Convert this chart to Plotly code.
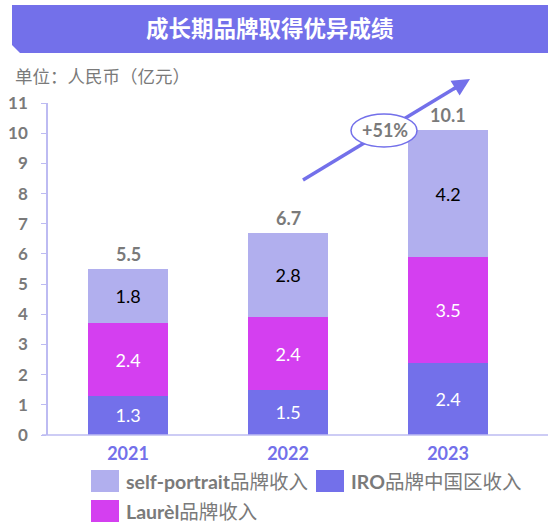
import plotly.graph_objects as go

# data (亿元)
years = ["2021", "2022", "2023"]
iro = [1.3, 1.5, 2.4]
laurel = [2.4, 2.4, 3.5]
self_portrait = [1.8, 2.8, 4.2]
totals = [5.5, 6.7, 10.1]
growth_label = "+51%"

c_iro = "#7370EA"
c_laurel = "#D43FF0"
c_sp = "#B1AFEE"
c_axis = "#BDBBF2"
c_gray = "#7A7A7A"
font_fam = "Lato, 'Noto Sans CJK SC', sans-serif"

W, H = 548, 524
L, R, T, B = 48, 20, 103, 89


# pixel -> paper helpers for decorations
def px(x):
    return (x - L) / (W - L - R)


def py(y):
    return (H - B - y) / (H - T - B)


fig = go.Figure()
fig.add_trace(go.Bar(x=years, y=iro, marker_color=c_iro,
                     textfont=dict(color="white", size=18)))
fig.add_trace(go.Bar(x=years, y=laurel, marker_color=c_laurel,
                     textfont=dict(color="white", size=18)))
fig.add_trace(go.Bar(x=years, y=self_portrait, marker_color=c_sp,
                     textfont=dict(color="black", size=18)))
fig.update_traces(width=0.5, textposition="inside", insidetextanchor="middle",
                  texttemplate="%{y:.1f}", marker_line_width=0, showlegend=False,
                  constraintext="none")

# totals above bars
for i, t in enumerate(totals):
    fig.add_annotation(x=i, y=t, text=f"<b>{t}</b>", showarrow=False, yanchor="bottom",
                       xanchor="center", yshift=2, font=dict(size=18, color=c_gray))

# title banner with clipped corner
x0, x1, y0, y1, cut = 12, 548, 5, 53, 8
fig.add_shape(type="path", xref="paper", yref="paper", fillcolor=c_iro, line_width=0,
              path=f"M {px(x0)},{py(y0)} L {px(x1)},{py(y0)} L {px(x1)},{py(y1)} "
                   f"L {px(x0 + cut)},{py(y1)} L {px(x0)},{py(y1 - cut)} Z")
fig.add_annotation(xref="paper", yref="paper", x=px(270), y=py(29), showarrow=False,
                   xanchor="center", yanchor="middle",
                   text="<b>成长期品牌取得优异成绩</b>", font=dict(size=22.5, color="white"))

fig.add_annotation(xref="paper", yref="paper", x=px(13), y=py(77), xanchor="left",
                   yanchor="middle", showarrow=False, text="单位：人民币（亿元）",
                   font=dict(size=17.5, color=c_gray))

# growth arrow and bubble
fig.add_shape(type="line", xref="paper", yref="paper", x0=px(303), y0=py(180),
              x1=px(460), y1=py(85), line=dict(color=c_iro, width=3.5))
fig.add_annotation(xref="paper", yref="paper", x=px(470), y=py(79), ax=-18, ay=11,
                   showarrow=True, arrowhead=2, arrowsize=1, arrowwidth=3.5,
                   arrowcolor=c_iro, text="")
fig.add_shape(type="circle", xref="paper", yref="paper", x0=px(351), x1=px(417),
              y0=py(147), y1=py(114), fillcolor="white", line=dict(color=c_iro, width=1.5))
fig.add_annotation(xref="paper", yref="paper", x=px(384.5), y=py(130), showarrow=False,
                   xanchor="center", yanchor="middle",
                   text=f"<b>{growth_label}</b>", font=dict(size=18, color=c_gray))

# extended x axis line
fig.add_shape(type="line", xref="paper", yref="paper", x0=px(42), x1=px(548), y0=0, y1=0,
              line=dict(color=c_axis, width=1.5))

# custom legend
legend_items = [
    (c_sp, "<b>self-portrait</b>品牌收入", 91, 481),
    (c_iro, "<b>IRO</b>品牌中国区收入", 316, 481),
    (c_laurel, "<b>Laurèl</b>品牌收入", 91, 511),
]
for col, label, lx, ly in legend_items:
    fig.add_shape(type="rect", xref="paper", yref="paper", x0=px(lx), x1=px(lx + 28),
                  y0=py(ly - 11), y1=py(ly + 11), fillcolor=col, line_width=0)
    fig.add_annotation(xref="paper", yref="paper", x=px(lx + 33), y=py(ly), xanchor="left",
                       yanchor="middle", showarrow=False, text=label,
                       font=dict(size=19.5, color=c_gray))

fig.update_layout(
    barmode="stack",
    width=W, height=H,
    margin=dict(l=L, r=R, t=T, b=B),
    plot_bgcolor="white", paper_bgcolor="white",
    font=dict(family=font_fam),
)
fig.update_yaxes(range=[0, 11], dtick=1, showgrid=False, zeroline=False,
                 showline=True, linecolor=c_axis, linewidth=1.5, automargin=False,
                 ticks="outside", ticklen=5, tickcolor=c_axis, ticklabelstandoff=10,
                 tickfont=dict(size=17, color=c_gray, weight="bold"))
fig.update_xaxes(type="category", range=[-0.5, 2.5], showgrid=False, showline=False,
                 ticks="", ticklabelstandoff=6, automargin=False,
                 tickfont=dict(size=18, color=c_iro, weight="bold"))

fig.write_html("out.html", config={"displayModeBar": False},
               post_script="document.body.style.margin='0';")
